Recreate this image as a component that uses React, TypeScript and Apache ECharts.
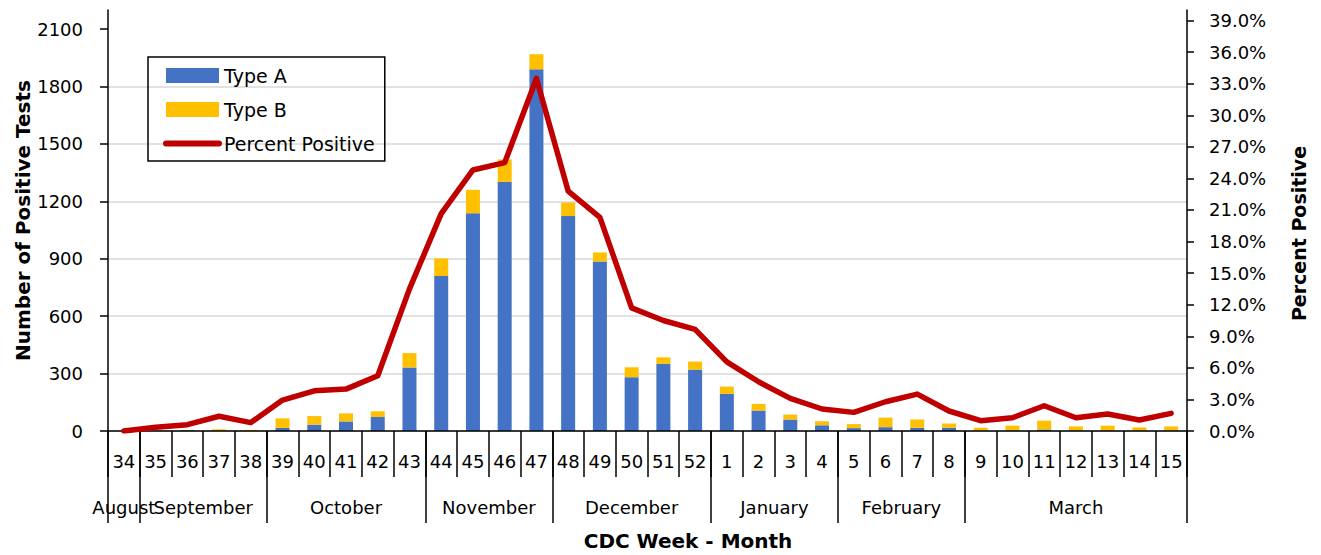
import React, { useEffect, useRef } from "react";
import * as echarts from "echarts";

const weeks = ["34","35","36","37","38","39","40","41","42","43","44","45","46","47","48","49","50","51","52","1","2","3","4","5","6","7","8","9","10","11","12","13","14","15"];
const typeA = [0,0,4,0,0,16,33,50,73,332,810,1138,1302,1890,1123,886,281,351,321,194,107,60,30,15,20,17,17,2,3,8,3,3,2,3];
const typeB = [0,2,2,9,6,50,45,42,30,75,92,122,117,79,71,47,52,34,42,38,35,26,21,21,50,43,22,15,25,46,21,25,17,21];
const percentPositive = [0.0,0.35,0.6,1.4,0.8,2.94,3.82,3.98,5.25,13.5,20.65,24.8,25.5,33.5,22.8,20.3,11.7,10.5,9.65,6.57,4.68,3.1,2.09,1.77,2.78,3.51,1.9,0.98,1.26,2.4,1.26,1.61,1.04,1.68];
const monthNames = ["August","September","October","November","December","January","February","March"];
const monthWeekCounts = [1,4,5,4,5,4,4,7];
const leftTicks = [0,300,600,900,1200,1500,1800,2100];
const rightTicks = [0,3,6,9,12,15,18,21,24,27,30,33,36,39];

// half-week slots for the month level axis
const halfSlots = weeks.length * 2 + 1;
const monthAxisData: string[] = new Array(halfSlots).fill("");
const monthBoundaryIdx: number[] = [0];
{
  let s = 0;
  monthNames.forEach((m, i) => {
    const n = monthWeekCounts[i];
    monthAxisData[2 * s + n] = m;
    s += n;
    monthBoundaryIdx.push(2 * s);
  });
}

const FONT = "DejaVu Sans";

export default function App() {
  const ref = useRef<HTMLDivElement>(null);
  useEffect(() => {
    document.body.style.margin = "0";
    if (!ref.current) return;
    const chart = echarts.init(ref.current, undefined, { renderer: "svg" });
    const axisColor = "#000";
    chart.setOption({
      animation: false,
      textStyle: { fontFamily: FONT, color: "#000" },
      grid: { left: 108, right: 134, top: 10, bottom: 124, containLabel: false, outerBoundsMode: "none" },
      legend: {
        orient: "vertical",
        left: 148,
        top: 57,
        padding: [9, 10, 8, 15],
        itemWidth: 53,
        itemHeight: 15,
        itemGap: 15,
        borderColor: "#000",
        borderWidth: 1.5,
        textStyle: { fontFamily: FONT, fontSize: 19, color: "#000" },
        data: [
          { name: "Type A", icon: "rect" },
          { name: "Type B", icon: "rect" },
          { name: "Percent Positive", itemStyle: { opacity: 0 }, lineStyle: { width: 6, cap: "round" } },
        ],
      },
      xAxis: [
        {
          type: "category",
          data: weeks,
          position: "bottom",
          boundaryGap: true,
          axisLine: { show: true, lineStyle: { color: axisColor, width: 1.5 } },
          axisTick: { show: true, interval: 0, length: 46, lineStyle: { color: axisColor, width: 1.5 } },
          axisLabel: { interval: 0, margin: 21, fontSize: 18, color: "#000", fontFamily: FONT },
          splitLine: { show: false },
          z: 5,
        },
        {
          type: "category",
          data: monthAxisData,
          position: "bottom",
          boundaryGap: false,
          axisLine: { show: false },
          axisTick: {
            show: true,
            length: 92,
            interval: (idx: number) => monthBoundaryIdx.indexOf(idx) >= 0,
            lineStyle: { color: axisColor, width: 1.5 },
          },
          axisLabel: { interval: 0, margin: 67, fontSize: 18, color: "#000", fontFamily: FONT },
          splitLine: { show: false },
        },
      ],
      yAxis: [
        {
          type: "value",
          min: 0,
          max: 2200,
          interval: 300,
          position: "left",
          name: "Number of Positive Tests",
          nameLocation: "middle",
          nameMoveOverlap: false,
          nameGap: 75,
          nameTextStyle: { fontFamily: FONT, fontSize: 20, fontWeight: "bold", color: "#000" },
          axisLine: { show: true, lineStyle: { color: axisColor, width: 1.5 } },
          axisTick: { show: true, length: 8, customValues: leftTicks, lineStyle: { color: axisColor, width: 1.5 } },
          axisLabel: {
            margin: 25,
            fontSize: 18,
            color: "#000",
            fontFamily: FONT,
            customValues: leftTicks,
            formatter: (v: number) => String(v),
          },
          splitLine: {
            show: true,
            showMaxLine: false,
            lineStyle: {
              color: ["#d9d9d9","#d9d9d9","#d9d9d9","#d9d9d9","#d9d9d9","#d9d9d9","#d9d9d9","#d9d9d9","rgba(0,0,0,0)"],
              width: 1.5,
            },
          },
        },
        {
          type: "value",
          min: 0,
          max: 40,
          interval: 3,
          position: "right",
          name: "Percent Positive",
          nameLocation: "middle",
          nameGap: 102,
          nameTextStyle: { fontFamily: FONT, fontSize: 19, fontWeight: "bold", color: "#000", padding: [0, 26, 0, 0] },
          axisLine: { show: true, lineStyle: { color: axisColor, width: 1.5 } },
          axisTick: { show: true, length: 7, customValues: rightTicks, lineStyle: { color: axisColor, width: 1.5 } },
          axisLabel: {
            margin: 22,
            fontSize: 18,
            color: "#000",
            fontFamily: FONT,
            customValues: rightTicks,
            formatter: (v: number) => v.toFixed(1) + "%",
          },
          splitLine: { show: false },
        },
      ],
      series: [
        {
          name: "Type A",
          type: "bar",
          stack: "total",
          barWidth: 14,
          itemStyle: { color: "#4472C4" },
          data: typeA,
        },
        {
          name: "Type B",
          type: "bar",
          stack: "total",
          barWidth: 14,
          itemStyle: { color: "#FFC000" },
          data: typeB,
        },
        {
          name: "Percent Positive",
          type: "line",
          yAxisIndex: 1,
          symbol: "none",
          z: 10,
          lineStyle: { color: "#C00000", width: 5.5, cap: "round", join: "round" },
          itemStyle: { color: "#C00000" },
          data: percentPositive,
        },
      ],
      graphic: [
        {
          type: "text",
          x: 688,
          y: 541,
          style: {
            text: "CDC Week - Month",
            fontFamily: FONT,
            fontSize: 20,
            fontWeight: "bold",
            fill: "#000",
            textAlign: "center",
            textVerticalAlign: "middle",
          },
        },
      ],
    });
    return () => chart.dispose();
  }, []);
  return <div ref={ref} style={{ width: 1321, height: 555 }} />;
}
